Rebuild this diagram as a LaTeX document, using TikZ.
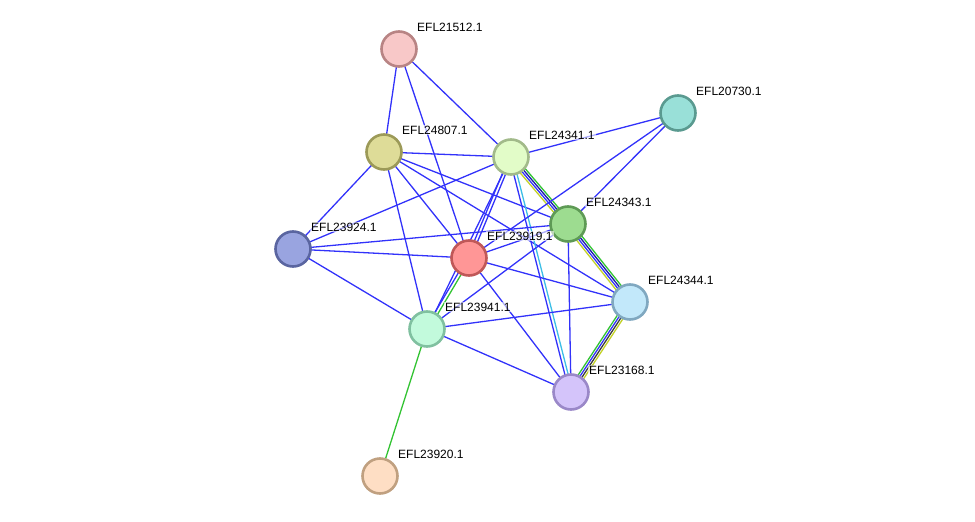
\documentclass[tikz,border=0pt]{standalone}
\usepackage{fontspec}
\setmainfont{Liberation Sans}
\usetikzlibrary{calc}
\pgfdeclarelayer{bg}
\pgfsetlayers{bg,main}
\definecolor{eblue}{RGB}{50,50,250}
\definecolor{egreen}{RGB}{50,195,50}
\definecolor{enavy}{RGB}{25,25,170}
\definecolor{eyellow}{RGB}{195,210,40}
\definecolor{ecyan}{RGB}{60,190,230}
\definecolor{eblack}{RGB}{60,60,60}
\newcommand\pedge[4]{\draw[edge,#4] ($(#1.center)!#3!90:(#2.center)$) -- ($(#2.center)!#3!-90:(#1.center)$);}
\newcommand\protnode[5]{%
  \definecolor{f#1}{HTML}{#4}\definecolor{b#1}{HTML}{#5}%
  \node[prot,fill=f#1,draw=b#1] (#1) at (#2,#3) {};
  \node[lab] at ($(#1.center)+(17,-22)$) {EFL#1.1};}
\begin{document}
\begin{tikzpicture}[x=1pt,y=-1pt,
  prot/.style={circle,line width=2.6pt,minimum size=35pt,inner sep=0pt},
  lab/.style={anchor=west,font=\fontsize{12}{12}\selectfont,inner sep=1pt,fill=white,fill opacity=0.6,text opacity=1},
  edge/.style={line width=1.3pt}]
\useasboundingbox (0,0) rectangle (975,522);
\protnode{21512}{399}{49}{F8C8C8}{B88484}
\protnode{20730}{678}{113}{99E0D8}{5A9A90}
\protnode{24807}{384}{152}{DEDC98}{9C9A58}
\protnode{24341}{511}{157}{E2FCC8}{A2BA8A}
\protnode{24343}{568}{224}{9DDC90}{5E9A55}
\protnode{23924}{293}{249}{99A4E0}{5A65A0}
\protnode{23919}{469}{258}{FF9696}{C05858}
\protnode{24344}{630}{302}{C2E8FA}{80A8C0}
\protnode{23941}{427}{329}{C2FADC}{80C0A0}
\protnode{23168}{571}{392}{D4C4FA}{9A88C8}
\protnode{23920}{380}{476}{FEDEC4}{C0A080}
\begin{pgfonlayer}{bg}
\pedge{21512}{24807}{0pt}{eblue}
\pedge{21512}{23919}{0pt}{eblue}
\pedge{21512}{24341}{0pt}{eblue}
\pedge{24807}{24341}{0pt}{eblue}
\pedge{24807}{23924}{0pt}{eblue}
\pedge{24807}{23941}{0pt}{eblue}
\pedge{24807}{23919}{0pt}{eblue}
\pedge{24807}{24343}{0pt}{eblue}
\pedge{24807}{24344}{0pt}{eblue}
\pedge{24341}{20730}{0pt}{eblue}
\pedge{24341}{23924}{0pt}{eblue}
\pedge{24341}{23919}{1.6pt}{eblue}
\pedge{24341}{23919}{-1.6pt}{eblue}
\pedge{24341}{23941}{0pt}{eblue}
\pedge{24341}{23168}{-1.6pt}{eblue}
\pedge{24341}{23168}{1.6pt}{ecyan}
\pedge{24341}{24343}{3.3pt}{egreen}
\pedge{24341}{24343}{1.1pt}{enavy}
\pedge{24341}{24343}{-1.1pt}{eblue}
\pedge{24341}{24343}{-3.3pt}{eyellow}
\pedge{24343}{24344}{3.3pt}{egreen}
\pedge{24343}{24344}{1.1pt}{enavy}
\pedge{24343}{24344}{-1.1pt}{eblue}
\pedge{24343}{24344}{-3.3pt}{eyellow}
\pedge{20730}{24343}{0pt}{eblue}
\pedge{20730}{23919}{0pt}{eblue}
\pedge{23924}{24343}{0pt}{eblue}
\pedge{23924}{23919}{0pt}{eblue}
\pedge{23924}{23941}{0pt}{eblue}
\pedge{23919}{23941}{-1.6pt}{eblue}
\pedge{23919}{23941}{1.6pt}{egreen}
\pedge{23919}{24343}{0pt}{eblue}
\pedge{23919}{24344}{0pt}{eblue}
\pedge{23919}{23168}{0pt}{eblue}
\pedge{23941}{24343}{0pt}{eblue}
\pedge{23941}{24344}{0pt}{eblue}
\pedge{23941}{23168}{0pt}{eblue}
\pedge{23941}{23920}{0pt}{egreen}
\pedge{24343}{23168}{0pt}{eblue}
\pedge{24344}{23168}{3.3pt}{eyellow}
\pedge{24344}{23168}{1.1pt}{eblack}
\pedge{24344}{23168}{-1.1pt}{eblue}
\pedge{24344}{23168}{-3.3pt}{egreen}
\end{pgfonlayer}
\end{tikzpicture}
\end{document}
